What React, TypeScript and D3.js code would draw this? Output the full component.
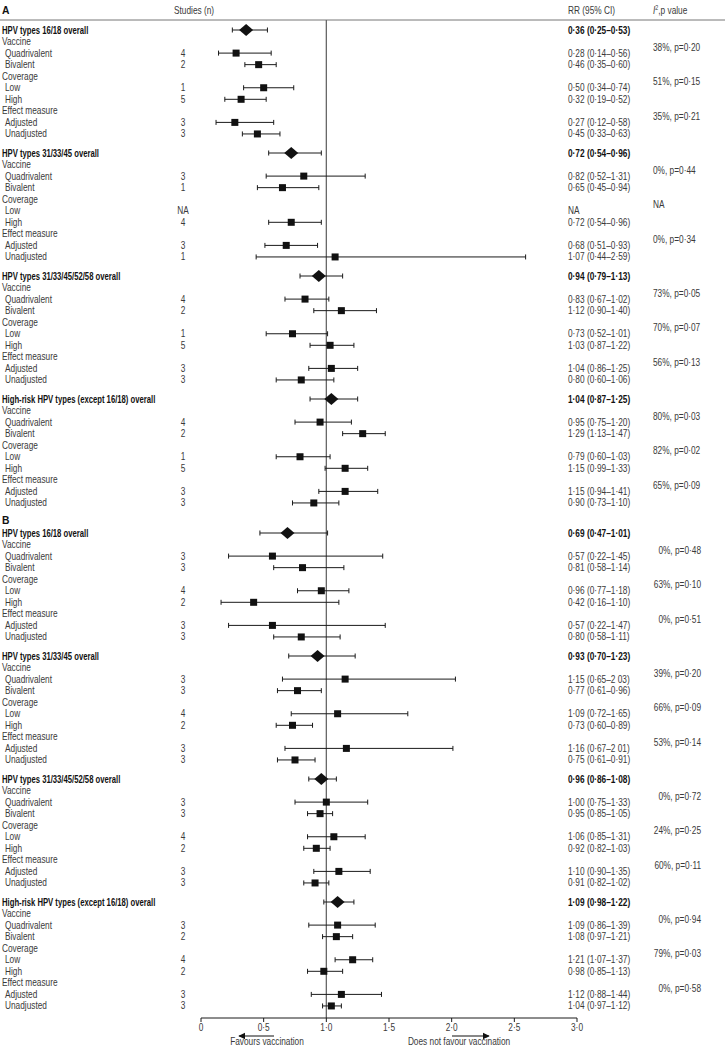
import React from "react";
import * as d3 from "d3";

// ---------- DATA ----------
const outcomeNames = [
  "HPV types 16/18 overall",
  "HPV types 31/33/45 overall",
  "HPV types 31/33/45/52/58 overall",
  "High-risk HPV types (except 16/18) overall",
];
const subgroupNames = ["Vaccine", "Coverage", "Effect measure"];
const levelNames = [
  ["Quadrivalent", "Bivalent"],
  ["Low", "High"],
  ["Adjusted", "Unadjusted"],
];
const panelLabels = ["A", "B"];
const xTicks = [0, 0.5, 1, 1.5, 2, 2.5, 3];

// Panel A
const overallA = [
  [0.36, 0.25, 0.53],
  [0.72, 0.54, 0.96],
  [0.94, 0.79, 1.13],
  [1.04, 0.87, 1.25],
];
const levelsA = [
  [[0.28, 0.14, 0.56], [0.46, 0.35, 0.6], [0.5, 0.34, 0.74], [0.32, 0.19, 0.52], [0.27, 0.12, 0.58], [0.45, 0.33, 0.63]],
  [[0.82, 0.52, 1.31], [0.65, 0.45, 0.94], null, [0.72, 0.54, 0.96], [0.68, 0.51, 0.93], [1.07, 0.44, 2.59]],
  [[0.83, 0.67, 1.02], [1.12, 0.9, 1.4], [0.73, 0.52, 1.01], [1.03, 0.87, 1.22], [1.04, 0.86, 1.25], [0.8, 0.6, 1.06]],
  [[0.95, 0.75, 1.2], [1.29, 1.13, 1.47], [0.79, 0.6, 1.03], [1.15, 0.99, 1.33], [1.15, 0.94, 1.41], [0.9, 0.73, 1.1]],
];
const studiesA = [
  ["4", "2", "1", "5", "3", "3"],
  ["3", "1", "NA", "4", "3", "1"],
  ["4", "2", "1", "5", "3", "3"],
  ["4", "2", "1", "5", "3", "3"],
];
const heterogeneityA = [
  ["38%, p=0·20", "51%, p=0·15", "35%, p=0·21"],
  ["0%, p=0·44", "NA", "0%, p=0·34"],
  ["73%, p=0·05", "70%, p=0·07", "56%, p=0·13"],
  ["80%, p=0·03", "82%, p=0·02", "65%, p=0·09"],
];

// Panel B
const overallB = [
  [0.69, 0.47, 1.01],
  [0.93, 0.7, 1.23],
  [0.96, 0.86, 1.08],
  [1.09, 0.98, 1.22],
];
const levelsB = [
  [[0.57, 0.22, 1.45], [0.81, 0.58, 1.14], [0.96, 0.77, 1.18], [0.42, 0.16, 1.1], [0.57, 0.22, 1.47], [0.8, 0.58, 1.11]],
  [[1.15, 0.65, 2.03], [0.77, 0.61, 0.96], [1.09, 0.72, 1.65], [0.73, 0.6, 0.89], [1.16, 0.67, 2.01], [0.75, 0.61, 0.91]],
  [[1.0, 0.75, 1.33], [0.95, 0.85, 1.05], [1.06, 0.85, 1.31], [0.92, 0.82, 1.03], [1.1, 0.9, 1.35], [0.91, 0.82, 1.02]],
  [[1.09, 0.86, 1.39], [1.08, 0.97, 1.21], [1.21, 1.07, 1.37], [0.98, 0.85, 1.13], [1.12, 0.88, 1.44], [1.04, 0.97, 1.12]],
];
const studiesB = [
  ["3", "3", "4", "2", "3", "3"],
  ["3", "3", "4", "2", "3", "3"],
  ["3", "3", "4", "2", "3", "3"],
  ["3", "2", "4", "2", "3", "3"],
];
const heterogeneityB = [
  ["0%, p=0·48", "63%, p=0·10", "0%, p=0·51"],
  ["39%, p=0·20", "66%, p=0·09", "53%, p=0·14"],
  ["0%, p=0·72", "24%, p=0·25", "60%, p=0·11"],
  ["0%, p=0·94", "79%, p=0·03", "0%, p=0·58"],
];
// RR labels printed differently in the source
const rrTextOverridesB: Record<string, string> = {
  "1-0": "1·15 (0·65–2 03)",
  "1-4": "1·16 (0·67–2 01)",
};

// ---------- LAYOUT ----------
const W = 725;
const H = 1048;
const FONT = "'Liberation Sans', Arial, sans-serif";
const FS = 10;
const SX = 0.83; // horizontal condensing for regular text
const SXB = 0.77; // horizontal condensing for bold labels
const ROW = 11.55;
const GROUP_GAP = 7.5;
const panelTops = [30, 533];
const headerY = 20;
const axisY = 1018;
const studiesX = 183;
const rrX = 568;
const hetX = [653, 701];

const x = d3.scaleLinear().domain([0, 3]).range([201, 577]);

const fmt = (v: number) => v.toFixed(2).replace(".", "·");
const rrLabel = (d: number[] | null) => (d ? `${fmt(d[0])} (${fmt(d[1])}–${fmt(d[2])})` : "NA");

type Row = {
  y: number;
  label: string;
  kind: "overall" | "sub" | "level";
  est?: number[] | null;
  studies?: string;
  rrText?: string;
  het?: string;
};

function buildPanel(p: number) {
  const overall = p === 0 ? overallA : overallB;
  const levels = p === 0 ? levelsA : levelsB;
  const studies = p === 0 ? studiesA : studiesB;
  const het = p === 0 ? heterogeneityA : heterogeneityB;
  const rows: Row[] = [];
  outcomeNames.forEach((name, g) => {
    const base = panelTops[p] + g * (10 * ROW + GROUP_GAP);
    rows.push({ y: base, label: name, kind: "overall", est: overall[g], rrText: rrLabel(overall[g]) });
    subgroupNames.forEach((sg, s) => {
      const sy = base + (1 + s * 3) * ROW;
      rows.push({ y: sy, label: sg, kind: "sub", het: het[g][s] });
      levelNames[s].forEach((lv, l) => {
        const idx = s * 2 + l;
        const est = levels[g][idx];
        const key = `${g}-${idx}`;
        const txt = p === 1 && rrTextOverridesB[key] ? rrTextOverridesB[key] : rrLabel(est);
        rows.push({ y: sy + (1 + l) * ROW, label: lv, kind: "level", est, studies: studies[g][idx], rrText: txt });
      });
    });
  });
  return rows;
}

const panels = [buildPanel(0), buildPanel(1)];

const TXT = "#3a3a3a";

function T(props: {
  x: number;
  y: number;
  children: React.ReactNode;
  anchor?: "start" | "middle" | "end";
  bold?: boolean;
  sx?: number;
  size?: number;
  fill?: string;
}) {
  const { x: tx, y: ty, children, anchor = "start", bold = false, sx = SX, size = FS, fill } = props;
  return (
    <text
      transform={`translate(${tx},${ty}) scale(${sx},1)`}
      dy="0.35em"
      fontSize={size}
      fontWeight={bold ? "bold" : "normal"}
      textAnchor={anchor}
      fill={fill ?? (bold ? "#111" : TXT)}
    >
      {children}
    </text>
  );
}

export default function App() {
  const ink = "#1a1a1a";
  return (
    <div style={{ position: "absolute", left: 0, top: 0 }}>
      <svg width={W} height={H} style={{ display: "block", fontFamily: FONT }}>
        <rect width={W} height={H} fill="#fff" />
        {/* headers */}
        <T x={2} y={10} bold size={11.5} sx={0.9}>{panelLabels[0]}</T>
        <T x={174} y={10}>Studies (n)</T>
        <T x={rrX} y={10}>RR (95% CI)</T>
        <text transform={`translate(${hetX[0]},10) scale(${SX},1)`} dy="0.35em" fontSize={FS} fill={TXT}>
          <tspan fontStyle="italic">I</tspan>
          <tspan dy={-3.5} fontSize={6.5}>2</tspan>
          <tspan dy={3.5}>,p value</tspan>
        </text>
        <line x1={0} x2={W} y1={headerY} y2={headerY} stroke="#777" strokeWidth={1} />
        <T x={2} y={520} bold size={11.5} sx={0.9}>{panelLabels[1]}</T>

        {/* reference line */}
        <line x1={x(1)} x2={x(1)} y1={headerY} y2={axisY} stroke="#666" strokeWidth={1.3} />

        {panels.map((rows, p) => (
          <g key={p}>
            {rows.map((r, i) => {
              const bold = r.kind === "overall";
              const lx = r.kind === "level" ? 5 : 2;
              return (
                <g key={i}>
                  <T x={lx} y={r.y} bold={bold} sx={bold ? SXB : SX}>{r.label}</T>
                  {r.studies && (
                    <T x={studiesX} y={r.y} anchor="middle">{r.studies}</T>
                  )}
                  {r.rrText && (
                    <T x={rrX} y={r.y} bold={bold}>{r.rrText}</T>
                  )}
                  {r.het && (
                    <T x={hetX[p]} y={r.y + ROW * 0.5} anchor={p === 0 ? "start" : "end"}>{r.het}</T>
                  )}
                  {r.est && (
                    <g>
                      <line x1={x(r.est[1])} x2={x(r.est[2])} y1={r.y} y2={r.y} stroke={ink} strokeWidth={1} />
                      <line x1={x(r.est[1])} x2={x(r.est[1])} y1={r.y - 2.5} y2={r.y + 2.5} stroke={ink} strokeWidth={1} />
                      <line x1={x(r.est[2])} x2={x(r.est[2])} y1={r.y - 2.5} y2={r.y + 2.5} stroke={ink} strokeWidth={1} />
                      {bold ? (
                        <path
                          d={`M${x(r.est[0]) - 7},${r.y} L${x(r.est[0])},${r.y - 6} L${x(r.est[0]) + 7},${r.y} L${x(r.est[0])},${r.y + 6} Z`}
                          fill="#111"
                        />
                      ) : (
                        <rect x={x(r.est[0]) - 3.5} y={r.y - 3.5} width={7} height={7} fill="#111" />
                      )}
                    </g>
                  )}
                </g>
              );
            })}
          </g>
        ))}

        {/* axis */}
        <line x1={x(0)} x2={x(3)} y1={axisY} y2={axisY} stroke={ink} strokeWidth={1} />
        {xTicks.map((t) => (
          <g key={t}>
            <line x1={x(t)} x2={x(t)} y1={axisY} y2={axisY + 4} stroke={ink} strokeWidth={1} />
            <T x={x(t)} y={axisY + 9} anchor="middle">
              {t === 0 ? "0" : t.toFixed(1).replace(".", "·")}
            </T>
          </g>
        ))}
        {/* direction arrows */}
        <defs>
          <marker id="arr" viewBox="0 0 10 10" refX={9} refY={5} markerWidth={6} markerHeight={6} orient="auto">
            <path d="M0,0 L10,5 L0,10 Z" fill="#111" />
          </marker>
        </defs>
        <line x1={274} x2={239} y1={1036} y2={1036} stroke="#111" strokeWidth={1.2} markerEnd="url(#arr)" />
        <line x1={452} x2={489} y1={1036} y2={1036} stroke="#111" strokeWidth={1.2} markerEnd="url(#arr)" />
        <T x={267} y={1041} anchor="middle">Favours vaccination</T>
        <T x={459} y={1041} anchor="middle">Does not favour vaccination</T>
      </svg>
    </div>
  );
}
